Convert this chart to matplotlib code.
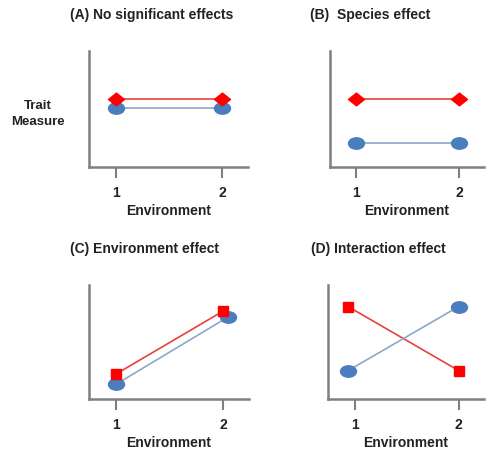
import matplotlib.pyplot as plt
from matplotlib.path import Path
from matplotlib.transforms import Affine2D

plt.rcParams['font.family'] = ['Liberation Sans', 'DejaVu Sans']

# panel data: environment positions and trait measure for two species
titles = ['(A) No significant effects', '(B)  Species effect',
          '(C) Environment effect', '(D) Interaction effect']
red_x = [[1, 2], [1, 2], [1, 2], [0.94, 2]]
red_y = [[5.9, 5.9], [5.9, 5.9], [2.2, 7.7], [8.1, 2.5]]
blue_x = [[1, 2], [1, 2], [1, 2.05], [0.94, 2]]
blue_y = [[5.1, 5.1], [2.1, 2.1], [1.3, 7.2], [2.5, 8.1]]
red_marker = ['diamond', 'diamond', 's', 's']
env_ticks = [1, 2]
env_labels = ['1', '2']

W, H = 486, 452
fig = plt.figure(figsize=(W / 100, H / 100), dpi=100)

# axes boxes in pixels: left, top, right, bottom
boxes = [(89, 52, 248, 168), (330, 52, 484, 168),
         (89, 286, 249, 400), (328, 286, 484, 400)]
title_pos = [(152, 15), (370, 15), (145, 249), (378, 249)]

ellipse = Path.unit_circle().transformed(Affine2D().scale(1.4, 1.0))
diamond = Path([(-1.25, 0), (0, 1), (1.25, 0), (0, -1), (-1.25, 0)],
               [Path.MOVETO, Path.LINETO, Path.LINETO, Path.LINETO,
                Path.CLOSEPOLY])

for i in range(4):
    l, t, r, b = boxes[i]
    ax = fig.add_axes([l / W, 1 - b / H, (r - l) / W, (b - t) / H])
    ax.plot(red_x[i], red_y[i], color='#E8413C', lw=1.2, zorder=2)
    ax.plot(blue_x[i], blue_y[i], color='#8AA9CB', lw=1.2, zorder=2)
    if red_marker[i] == 'diamond':
        ax.plot(red_x[i], red_y[i], ls='none', marker=diamond, ms=11.5,
                color='#FF0000', mec='#FF0000', zorder=4)
    else:
        ax.plot(red_x[i], red_y[i], ls='none', marker='s', ms=7,
                color='#FF0000', mec='#FF0000', zorder=4)
    ax.plot(blue_x[i], blue_y[i], ls='none', marker=ellipse, ms=11.5,
            color='#4A7DBE', mec='#4A7DBE', zorder=3)
    ax.set_xlim(0.745, 2.245)
    ax.set_ylim(0, 10)
    ax.set_yticks([])
    ax.set_xticks(env_ticks)
    ax.set_xticklabels(env_labels, fontsize=10, fontweight='bold', color='#222222')
    ax.tick_params(axis='x', length=8, width=1.5, color='#7F7F7F', pad=5)
    for s in ['top', 'right']:
        ax.spines[s].set_visible(False)
    for s in ['left', 'bottom']:
        ax.spines[s].set_color('#7F7F7F')
        ax.spines[s].set_linewidth(1.8)
    ax.set_xlabel('Environment', fontsize=10, fontweight='bold',
                  color='#222222', labelpad=2.5)
    fig.text(title_pos[i][0] / W, 1 - title_pos[i][1] / H, titles[i],
             ha='center', va='center', fontsize=10, fontweight='bold',
             color='#222222')

fig.text(38 / W, 1 - 114 / H, 'Trait\nMeasure', ha='center', va='center',
         fontsize=9.5, fontweight='bold', color='#222222', linespacing=1.4)

fig.savefig('out.png', dpi=100)
